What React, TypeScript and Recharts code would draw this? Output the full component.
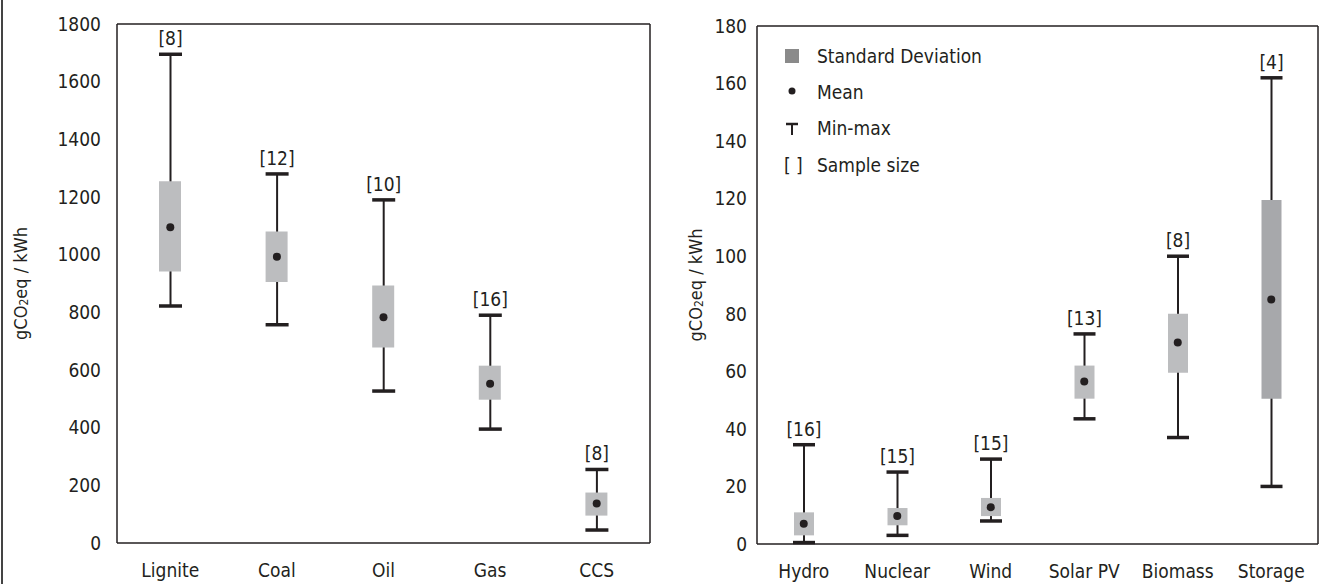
import React from 'react';
import { ComposedChart, Bar, Scatter, XAxis, YAxis, LabelList, Cell } from 'recharts';

// fossil panel
const fossilNames = ['Lignite', 'Coal', 'Oil', 'Gas', 'CCS'];
const fossilMin = [822, 757, 527, 395, 45];
const fossilMax = [1695, 1280, 1190, 790, 255];
const fossilSdLow = [942, 905, 678, 497, 95];
const fossilSdHigh = [1255, 1080, 893, 615, 175];
const fossilMean = [1095, 993, 783, 552, 137];
const fossilN = [8, 12, 10, 16, 8];
const fossilTicks = [0, 200, 400, 600, 800, 1000, 1200, 1400, 1600, 1800];

// low-carbon panel
const lowNames = ['Hydro', 'Nuclear', 'Wind', 'Solar PV', 'Biomass', 'Storage'];
const lowMin = [0.5, 3, 8, 43.5, 37, 20];
const lowMax = [34.5, 25, 29.5, 73, 100, 162];
const lowSdLow = [3, 6.5, 9.7, 50.5, 59.5, 50.5];
const lowSdHigh = [11, 12.5, 16, 62, 80, 119.5];
const lowMean = [7, 9.7, 12.8, 56.5, 70, 85];
const lowN = [16, 15, 15, 13, 8, 4];
const lowTicks = [0, 20, 40, 60, 80, 100, 120, 140, 160, 180];

const FONT = "'Liberation Sans Narrow', 'Arial Narrow', 'DejaVu Sans Condensed', sans-serif";
const INK = '#231f20';
const BOX = '#bcbdbf';
const BOX_DARK = '#a7a8ab';
const FS = 19;

const build = (names: string[], min: number[], max: number[], lo: number[], hi: number[], mean: number[], n: number[]) =>
  names.map((name, i) => ({ name, range: [min[i], max[i]], sd: [lo[i], hi[i]], mean: mean[i], n: n[i] }));

const fossilData = build(fossilNames, fossilMin, fossilMax, fossilSdLow, fossilSdHigh, fossilMean, fossilN);
const lowData = build(lowNames, lowMin, lowMax, lowSdLow, lowSdHigh, lowMean, lowN);

const Whisker = (props: any) => {
  const { x, y, width, height } = props;
  const top = Math.min(y, y + height);
  const bot = Math.max(y, y + height);
  const cx = x + width / 2;
  return (
    <g>
      <line x1={cx} x2={cx} y1={top} y2={bot} stroke={INK} strokeWidth={2} />
      <line x1={x} x2={x + width} y1={top} y2={top} stroke={INK} strokeWidth={3.5} />
      <line x1={x} x2={x + width} y1={bot} y2={bot} stroke={INK} strokeWidth={3.5} />
    </g>
  );
};

const MeanDot = (props: any) => <circle cx={props.cx} cy={props.cy} r={4} fill={INK} />;

const YTitle = (props: any) => {
  const { viewBox, dx } = props;
  const cx = viewBox.x + dx;
  const cy = viewBox.y + viewBox.height / 2;
  return (
    <text x={cx} y={cy} transform={`rotate(-90 ${cx} ${cy})`} textAnchor="middle" dominantBaseline="central"
      fontSize={18} fill={INK} fontFamily={FONT}>
      gCO<tspan dy={4} fontSize={12}>2</tspan><tspan dy={-4}>eq / kWh</tspan>
    </text>
  );
};

const LegendBox = () => (
  <svg width={260} height={150} style={{ fontFamily: FONT, display: 'block' }}>
    <rect x={5} y={9} width={14} height={14} fill="#8a8a8a" />
    <text x={37} y={16} dominantBaseline="central" fontSize={FS} fill={INK}>Standard Deviation</text>
    <circle cx={12} cy={51} r={3.5} fill={INK} />
    <text x={37} y={52} dominantBaseline="central" fontSize={FS} fill={INK}>Mean</text>
    <line x1={6} x2={18} y1={84} y2={84} stroke={INK} strokeWidth={2.5} />
    <line x1={12} x2={12} y1={84} y2={95} stroke={INK} strokeWidth={2} />
    <text x={37} y={88} dominantBaseline="central" fontSize={FS} fill={INK}>Min-max</text>
    <text x={4} y={125} dominantBaseline="central" fontSize={FS} fill={INK}>[ ]</text>
    <text x={37} y={125} dominantBaseline="central" fontSize={FS} fill={INK}>Sample size</text>
  </svg>
);

type PanelProps = {
  data: any[];
  width: number;
  top: number;
  bottom: number;
  right: number;
  yWidth: number;
  yMax: number;
  ticks: number[];
  tickMargin: number;
  titleDx: number;
  boxSize: number;
  capSize: number;
  darkLast?: boolean;
};

const Panel = ({ data, width, top, bottom, right, yWidth, yMax, ticks, tickMargin, titleDx, boxSize, capSize, darkLast }: PanelProps) => (
  <ComposedChart width={width} height={584} data={data} margin={{ top: top - 1, right: right - 1, bottom: bottom - 30, left: 0 }}>
    <XAxis dataKey="name" height={30} tickSize={0} tickMargin={21} interval={0}
      axisLine={{ stroke: INK, strokeWidth: 1.5 }}
      tick={{ fill: INK, fontSize: FS, fontFamily: FONT }} />
    <XAxis xAxisId="top" dataKey="name" orientation="top" height={1} tick={false} tickLine={false}
      axisLine={{ stroke: INK, strokeWidth: 1.5 }} />
    <XAxis xAxisId="box" dataKey="name" hide />
    <YAxis width={yWidth} domain={[0, yMax]} ticks={ticks} tickSize={0} tickMargin={tickMargin}
      axisLine={{ stroke: INK, strokeWidth: 1.5 }}
      tick={{ fill: INK, fontSize: FS, fontFamily: FONT }}
      label={{ content: (p: any) => <YTitle {...p} dx={titleDx} /> }} />
    <YAxis yAxisId="right" orientation="right" width={1} domain={[0, yMax]} tick={false} tickLine={false}
      axisLine={{ stroke: INK, strokeWidth: 1.5 }} />
    <Bar dataKey="range" barSize={capSize} shape={<Whisker />} isAnimationActive={false}>
      <LabelList dataKey="n" position="top" offset={9} formatter={(v: any) => `[${v}]`}
        fill={INK} fontSize={FS} fontFamily={FONT} />
    </Bar>
    <Bar dataKey="sd" xAxisId="box" barSize={boxSize} fill={BOX} isAnimationActive={false}>
      {data.map((d, i) => (
        <Cell key={d.name} fill={darkLast && i === data.length - 1 ? BOX_DARK : BOX} />
      ))}
    </Bar>
    <Scatter dataKey="mean" xAxisId="box" shape={<MeanDot />} isAnimationActive={false} />
  </ComposedChart>
);

export default function App() {
  return (
    <div style={{ position: 'absolute', left: 0, top: 0, width: 1321, height: 584, background: '#fff' }}>
      <div style={{ position: 'absolute', left: 1, top: 0, width: 1.5, height: 584, background: '#444' }} />
      <div style={{ position: 'absolute', left: 0, top: 0 }}>
        <Panel data={fossilData} width={660} top={24} bottom={41} right={10} yWidth={117} yMax={1800}
          ticks={fossilTicks} tickMargin={16} titleDx={20} boxSize={22} capSize={23} />
      </div>
      <div style={{ position: 'absolute', left: 660, top: 0 }}>
        <Panel data={lowData} width={661} top={26} bottom={40} right={3} yWidth={97} yMax={180}
          ticks={lowTicks} tickMargin={10} titleDx={35} boxSize={20} capSize={22} darkLast />
        <div style={{ position: 'absolute', left: 120, top: 40 }}>
          <LegendBox />
        </div>
      </div>
    </div>
  );
}
